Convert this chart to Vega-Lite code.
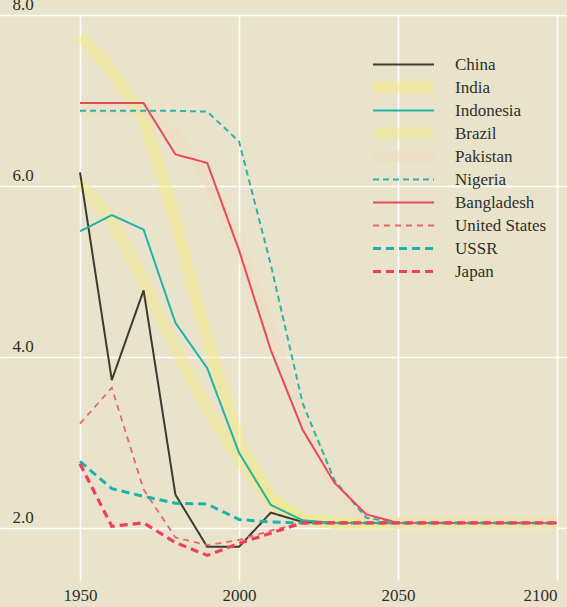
{
  "$schema": "https://vega.github.io/schema/vega-lite/v6.json",
  "width": 567,
  "height": 565,
  "autosize": "none",
  "padding": {"left": 0, "right": 0, "top": 15, "bottom": 27},
  "background": "#e9e3cc",
  "config": {
    "view": {"stroke": null, "fill": "#e9e3cc"},
    "axis": {"grid": true, "gridColor": "#ffffff", "gridWidth": 1.6, "gridOpacity": 0.95, "domain": false, "ticks": false, "title": null, "labelFont": "Liberation Serif", "labelFontSize": 17, "labelColor": "#2f2f2a"}
  },
  "data": {"values": [
    {"country":"India","year":1950,"tfr":7.75},{"country":"India","year":1960,"tfr":7.35},{"country":"India","year":1970,"tfr":6.8},{"country":"India","year":1980,"tfr":5.6},{"country":"India","year":1990,"tfr":4.2},{"country":"India","year":2000,"tfr":3.0},{"country":"India","year":2010,"tfr":2.35},{"country":"India","year":2020,"tfr":2.1},{"country":"India","year":2030,"tfr":2.06},{"country":"India","year":2040,"tfr":2.06},{"country":"India","year":2050,"tfr":2.06},{"country":"India","year":2100,"tfr":2.06},
    {"country":"Brazil","year":1950,"tfr":6.05},{"country":"Brazil","year":1960,"tfr":5.6},{"country":"Brazil","year":1970,"tfr":4.9},{"country":"Brazil","year":1980,"tfr":4.1},{"country":"Brazil","year":1990,"tfr":3.4},{"country":"Brazil","year":2000,"tfr":2.8},{"country":"Brazil","year":2010,"tfr":2.3},{"country":"Brazil","year":2020,"tfr":2.1},{"country":"Brazil","year":2030,"tfr":2.06},{"country":"Brazil","year":2040,"tfr":2.06},{"country":"Brazil","year":2050,"tfr":2.06},{"country":"Brazil","year":2100,"tfr":2.06},
    {"country":"Pakistan","year":1950,"tfr":6.9},{"country":"Pakistan","year":1960,"tfr":6.9},{"country":"Pakistan","year":1970,"tfr":6.9},{"country":"Pakistan","year":1980,"tfr":6.6},{"country":"Pakistan","year":1990,"tfr":6.1},{"country":"Pakistan","year":2000,"tfr":5.3},{"country":"Pakistan","year":2010,"tfr":4.3},{"country":"Pakistan","year":2020,"tfr":3.3},{"country":"Pakistan","year":2030,"tfr":2.5},{"country":"Pakistan","year":2040,"tfr":2.12},{"country":"Pakistan","year":2050,"tfr":2.06},{"country":"Pakistan","year":2100,"tfr":2.06},
    {"country":"China","year":1950,"tfr":6.16},{"country":"China","year":1960,"tfr":3.73},{"country":"China","year":1970,"tfr":4.78},{"country":"China","year":1980,"tfr":2.39},{"country":"China","year":1990,"tfr":1.78},{"country":"China","year":2000,"tfr":1.78},{"country":"China","year":2010,"tfr":2.18},{"country":"China","year":2020,"tfr":2.07},{"country":"China","year":2030,"tfr":2.06},{"country":"China","year":2040,"tfr":2.06},{"country":"China","year":2050,"tfr":2.06},{"country":"China","year":2100,"tfr":2.06},
    {"country":"Indonesia","year":1950,"tfr":5.47},{"country":"Indonesia","year":1960,"tfr":5.66},{"country":"Indonesia","year":1970,"tfr":5.49},{"country":"Indonesia","year":1980,"tfr":4.4},{"country":"Indonesia","year":1990,"tfr":3.87},{"country":"Indonesia","year":2000,"tfr":2.88},{"country":"Indonesia","year":2010,"tfr":2.27},{"country":"Indonesia","year":2020,"tfr":2.09},{"country":"Indonesia","year":2030,"tfr":2.06},{"country":"Indonesia","year":2040,"tfr":2.06},{"country":"Indonesia","year":2050,"tfr":2.06},{"country":"Indonesia","year":2100,"tfr":2.06},
    {"country":"Nigeria","year":1950,"tfr":6.88},{"country":"Nigeria","year":1960,"tfr":6.88},{"country":"Nigeria","year":1970,"tfr":6.88},{"country":"Nigeria","year":1980,"tfr":6.88},{"country":"Nigeria","year":1990,"tfr":6.87},{"country":"Nigeria","year":2000,"tfr":6.52},{"country":"Nigeria","year":2010,"tfr":5.08},{"country":"Nigeria","year":2020,"tfr":3.46},{"country":"Nigeria","year":2030,"tfr":2.56},{"country":"Nigeria","year":2040,"tfr":2.12},{"country":"Nigeria","year":2050,"tfr":2.06},{"country":"Nigeria","year":2100,"tfr":2.06},
    {"country":"Bangladesh","year":1950,"tfr":6.97},{"country":"Bangladesh","year":1960,"tfr":6.97},{"country":"Bangladesh","year":1970,"tfr":6.97},{"country":"Bangladesh","year":1980,"tfr":6.37},{"country":"Bangladesh","year":1990,"tfr":6.27},{"country":"Bangladesh","year":2000,"tfr":5.25},{"country":"Bangladesh","year":2010,"tfr":4.08},{"country":"Bangladesh","year":2020,"tfr":3.15},{"country":"Bangladesh","year":2030,"tfr":2.53},{"country":"Bangladesh","year":2040,"tfr":2.16},{"country":"Bangladesh","year":2050,"tfr":2.06},{"country":"Bangladesh","year":2100,"tfr":2.06},
    {"country":"United States","year":1950,"tfr":3.22},{"country":"United States","year":1960,"tfr":3.64},{"country":"United States","year":1970,"tfr":2.45},{"country":"United States","year":1980,"tfr":1.89},{"country":"United States","year":1990,"tfr":1.8},{"country":"United States","year":2000,"tfr":1.86},{"country":"United States","year":2010,"tfr":1.97},{"country":"United States","year":2020,"tfr":2.06},{"country":"United States","year":2030,"tfr":2.06},{"country":"United States","year":2040,"tfr":2.06},{"country":"United States","year":2050,"tfr":2.06},{"country":"United States","year":2100,"tfr":2.06},
    {"country":"USSR","year":1950,"tfr":2.78},{"country":"USSR","year":1960,"tfr":2.46},{"country":"USSR","year":1970,"tfr":2.37},{"country":"USSR","year":1980,"tfr":2.29},{"country":"USSR","year":1990,"tfr":2.28},{"country":"USSR","year":2000,"tfr":2.1},{"country":"USSR","year":2010,"tfr":2.07},{"country":"USSR","year":2020,"tfr":2.06},{"country":"USSR","year":2030,"tfr":2.06},{"country":"USSR","year":2040,"tfr":2.06},{"country":"USSR","year":2050,"tfr":2.06},{"country":"USSR","year":2100,"tfr":2.06},
    {"country":"Japan","year":1950,"tfr":2.75},{"country":"Japan","year":1960,"tfr":2.02},{"country":"Japan","year":1970,"tfr":2.06},{"country":"Japan","year":1980,"tfr":1.83},{"country":"Japan","year":1990,"tfr":1.68},{"country":"Japan","year":2000,"tfr":1.82},{"country":"Japan","year":2010,"tfr":1.94},{"country":"Japan","year":2020,"tfr":2.06},{"country":"Japan","year":2030,"tfr":2.06},{"country":"Japan","year":2040,"tfr":2.06},{"country":"Japan","year":2050,"tfr":2.06},{"country":"Japan","year":2100,"tfr":2.06}
  ]},
  "mark": {"type": "line", "strokeCap": "butt", "strokeJoin": "miter"},
  "encoding": {
    "x": {"field": "year", "type": "quantitative", "scale": {"domain": [1924.84, 2103.14], "nice": false, "zero": false},
      "axis": {"values": [1950, 2000, 2050, 2100], "format": "d", "labelPadding": 7, "labelFlush": 15}},
    "y": {"field": "tfr", "type": "quantitative", "scale": {"domain": [1.392, 8.0], "nice": false, "zero": false},
      "axis": {"values": [2, 4, 6, 8], "format": ".1f", "labelAlign": "left", "labelPadding": -12, "labelBaseline": "alphabetic", "labelOffset": -6}},
    "color": {"field": "country", "type": "nominal",
      "scale": {"domain": ["China","India","Indonesia","Brazil","Pakistan","Nigeria","Bangladesh","United States","USSR","Japan"],
        "range": ["#3b3b30","#f3ec7e","#20b3a6","#f1e98a","#f0dcc0","#2fb2ab","#e64a5e","#e8656c","#1cb3ad","#ef3f5c"]},
      "legend": {"title": null, "orient": "none", "legendX": 367, "legendY": 38, "symbolType": "stroke", "symbolSize": 3721, "clipHeight": 23, "rowPadding": 0, "padding": 0, "labelOffset": 15, "labelFont": "Liberation Serif", "labelFontSize": 17, "labelColor": "#2f2f2a", "symbolOpacity": 1}},
    "strokeDash": {"field": "country", "type": "nominal",
      "scale": {"domain": ["China","India","Indonesia","Brazil","Pakistan","Nigeria","Bangladesh","United States","USSR","Japan"],
        "range": [[1,0],[1,0],[1,0],[1,0],[1,0],[6,4],[1,0],[6,5],[8,5],[8,5]]}},
    "strokeWidth": {"field": "country", "type": "nominal",
      "scale": {"type": "ordinal", "domain": ["China","India","Indonesia","Brazil","Pakistan","Nigeria","Bangladesh","United States","USSR","Japan"],
        "range": [2, 12, 2, 12, 12, 2, 2, 1.8, 3, 3.2]}},
    "opacity": {"field": "country", "type": "nominal",
      "scale": {"type": "ordinal", "domain": ["China","India","Indonesia","Brazil","Pakistan","Nigeria","Bangladesh","United States","USSR","Japan"],
        "range": [1, 0.5, 1, 0.5, 0.55, 1, 1, 1, 1, 1]}}
  }
}
